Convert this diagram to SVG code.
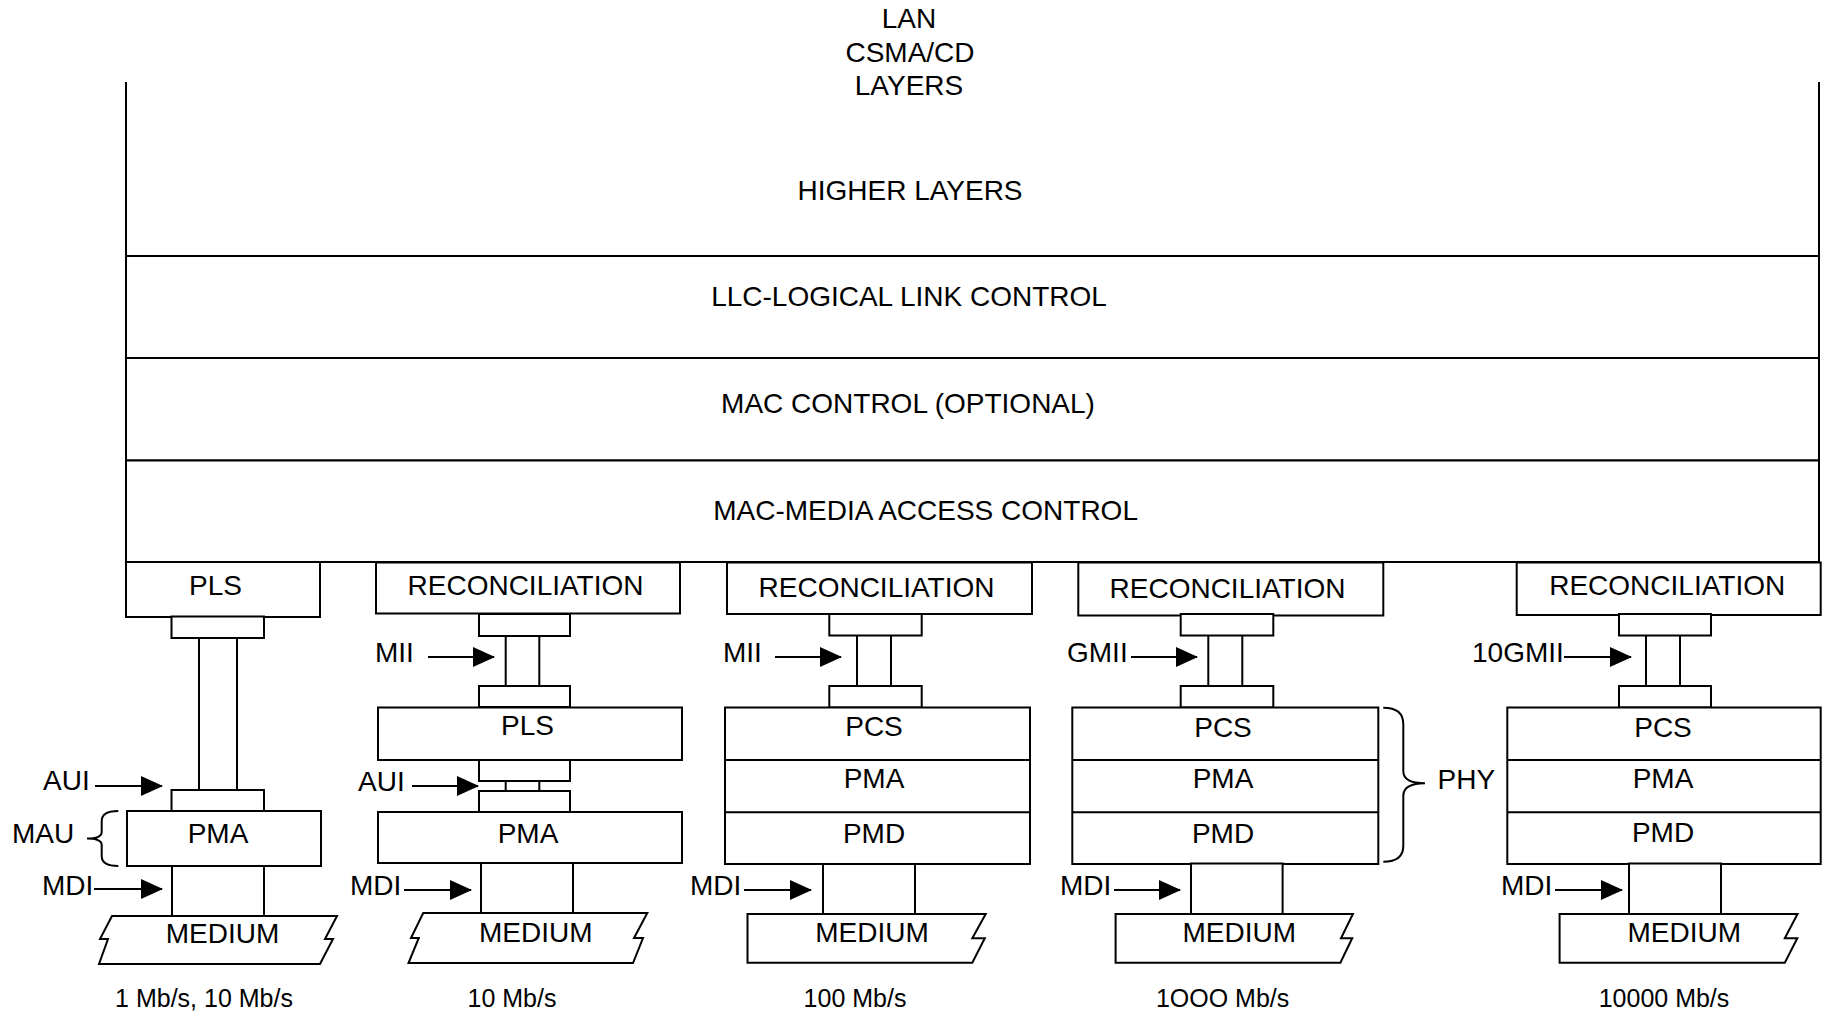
<svg xmlns="http://www.w3.org/2000/svg" width="1828" height="1016" viewBox="0 0 1828 1016">
<defs>
<style>
.t{font-family:"Liberation Sans",Arial,sans-serif;font-size:28px;fill:#000;text-anchor:middle}
.l{font-family:"Liberation Sans",Arial,sans-serif;font-size:28px;fill:#000}
.r{font-family:"Liberation Sans",Arial,sans-serif;font-size:25px;fill:#000;text-anchor:middle}
.b{fill:#fff;stroke:#000;stroke-width:2}
.s{fill:none;stroke:#000;stroke-width:2}
.a{fill:none;stroke:#000;stroke-width:2;marker-end:url(#ah)}
</style>
<marker id="ah" viewBox="0 0 22 20" refX="21" refY="10" markerWidth="22" markerHeight="20" markerUnits="userSpaceOnUse" orient="auto">
<path d="M0,0 L22,10 L0,20 z" fill="#000"/>
</marker>
</defs>
<rect width="1828" height="1016" fill="#fff"/>

<g id="title">
<text class="t" x="909" y="28">LAN</text>
<text class="t" x="910" y="61.5">CSMA/CD</text>
<text class="t" x="909" y="94.5">LAYERS</text>
</g>

<g id="higher-layers">
<path class="s" d="M126,82 V256 M1819,82 V256"/>
<text class="t" x="910" y="200">HIGHER LAYERS</text>
</g>
<g id="llc">
<rect class="b" x="126" y="256" width="1693" height="102"/>
<text class="t" x="909" y="306">LLC-LOGICAL LINK CONTROL</text>
</g>
<g id="mac-control">
<rect class="b" x="126" y="358" width="1693" height="102.5"/>
<text class="t" x="908" y="413">MAC CONTROL (OPTIONAL)</text>
</g>
<g id="mac">
<rect class="b" x="126" y="460.5" width="1693" height="101.5"/>
<text class="t" x="925.6" y="520">MAC-MEDIA ACCESS CONTROL</text>
</g>

<!-- column 1 -->
<g id="c1-pls">
<rect class="b" x="126" y="562" width="194" height="55"/>
<text class="t" x="215.5" y="595">PLS</text>
</g>
<g id="c1-aui">
<rect class="b" x="171.5" y="616.5" width="92.5" height="21.5"/>
<path class="s" d="M199,638 V790 M237,638 V790"/>
<rect class="b" x="171.5" y="790" width="92.5" height="21"/>
</g>
<g id="c1-pma">
<rect class="b" x="127" y="811" width="194" height="55"/>
<text class="t" x="218" y="843">PMA</text>
</g>
<g id="c1-mdi">
<path class="s" d="M172,866 V916 M264,866 V916"/>
</g>
<g id="c1-medium">
<path class="b" d="M112,916 L337,916 L325,939 L333,939 L320,964 L99,964 L108,939 L100,939 Z"/>
<text class="t" x="222.5" y="943">MEDIUM</text>
</g>
<g id="c1-labels">
<text class="l" x="43" y="790">AUI</text>
<text class="l" x="12" y="843">MAU</text>
<text class="l" x="42" y="895">MDI</text>
<path class="s" d="M118.3,811 Q101.7,811 101.7,821 V832 Q101.7,838.5 87,838.5 Q101.7,838.5 101.7,845 V856 Q101.7,866 118.3,866"/>
<text class="r" x="204" y="1007">1 Mb/s, 10 Mb/s</text>
</g>

<!-- column 2 -->
<g id="c2-rec">
<rect class="b" x="376" y="562.5" width="304" height="51"/>
<text class="t" x="525.5" y="595">RECONCILIATION</text>
</g>
<g id="c2-mii">
<rect class="b" x="479" y="614" width="91" height="22"/>
<path class="s" d="M505.7,636 V686 M539.3,636 V686"/>
<rect class="b" x="479" y="686" width="91" height="21"/>
</g>
<g id="c2-pls">
<rect class="b" x="378" y="707.5" width="304" height="52.5"/>
<text class="t" x="527.5" y="735">PLS</text>
</g>
<g id="c2-aui">
<rect class="b" x="479" y="760" width="91" height="21"/>
<path class="s" d="M505.7,781 V791 M539.3,781 V791"/>
<rect class="b" x="479" y="791" width="91" height="21"/>
</g>
<g id="c2-pma">
<rect class="b" x="378" y="812" width="304" height="51"/>
<text class="t" x="528" y="843">PMA</text>
</g>
<g id="c2-mdi">
<rect class="b" x="481" y="863" width="92" height="50"/>
</g>
<g id="c2-medium">
<path class="b" d="M423.2,913 L647.3,913 L634,938 L643,938 L633,963 L408.5,963 L418.8,938 L411,938 Z"/>
<text class="t" x="535.7" y="941.7">MEDIUM</text>
</g>
<g id="c2-labels">
<text class="l" x="375" y="662">MII</text>
<text class="l" x="358" y="791">AUI</text>
<text class="l" x="350" y="895">MDI</text>
<text class="r" x="512" y="1007">10 Mb/s</text>
</g>

<!-- column 3 -->
<g id="c3-rec">
<rect class="b" x="727" y="562.5" width="305" height="51.5"/>
<text class="t" x="876.5" y="596.7">RECONCILIATION</text>
</g>
<g id="c3-mii">
<rect class="b" x="829.3" y="614" width="92.4" height="21.5"/>
<path class="s" d="M857,635.5 V686 M891,635.5 V686"/>
<rect class="b" x="829.3" y="686" width="92.4" height="21.5"/>
</g>
<g id="c3-phy">
<rect class="b" x="725" y="707.5" width="305" height="156.5"/>
<path class="s" d="M725,760 H1030 M725,812.3 H1030"/>
<text class="t" x="874" y="736">PCS</text>
<text class="t" x="874" y="788.3">PMA</text>
<text class="t" x="874" y="842.7">PMD</text>
</g>
<g id="c3-mdi">
<rect class="b" x="823" y="864" width="92" height="50"/>
</g>
<g id="c3-medium">
<path class="b" d="M747.5,914 L985.7,914 L972.3,938.3 L984.8,938.3 L972.3,962.7 L747.5,962.7 Z"/>
<text class="t" x="872" y="941.7">MEDIUM</text>
</g>
<g id="c3-labels">
<text class="l" x="723" y="662">MII</text>
<text class="l" x="690" y="895">MDI</text>
<text class="r" x="855" y="1007">100 Mb/s</text>
</g>

<!-- column 4 -->
<g id="c4-rec">
<rect class="b" x="1078.3" y="562.5" width="305" height="53"/>
<text class="t" x="1227.5" y="598.3">RECONCILIATION</text>
</g>
<g id="c4-gmii">
<rect class="b" x="1180.7" y="614" width="92.6" height="21.5"/>
<path class="s" d="M1208.3,635.5 V686 M1242.3,635.5 V686"/>
<rect class="b" x="1180.7" y="686" width="92.6" height="21.5"/>
</g>
<g id="c4-phy">
<rect class="b" x="1072.3" y="707.5" width="306" height="156.5"/>
<path class="s" d="M1072.3,760 H1378.3 M1072.3,812.3 H1378.3"/>
<text class="t" x="1223" y="736.7">PCS</text>
<text class="t" x="1223" y="788.3">PMA</text>
<text class="t" x="1223" y="842.7">PMD</text>
</g>
<g id="c4-mdi">
<rect class="b" x="1191" y="863.5" width="91.6" height="50.5"/>
</g>
<g id="c4-medium">
<path class="b" d="M1115.6,914 L1352.9,914 L1341,938.3 L1352.2,938.3 L1340.4,962.7 L1115.6,962.7 Z"/>
<text class="t" x="1239.3" y="941.7">MEDIUM</text>
</g>
<g id="c4-labels">
<text class="l" x="1067" y="662">GMII</text>
<text class="l" x="1060" y="895">MDI</text>
<path class="s" d="M1383.3,707.7 Q1403.3,707.7 1403.3,724 V771 Q1403.3,783.3 1425,783.3 Q1403.3,783.3 1403.3,796 V846 Q1403.3,861.7 1383.3,861.7"/>
<text class="l" x="1437.5" y="789">PHY</text>
<text class="r" x="1222.6" y="1007">1OOO Mb/s</text>
</g>

<!-- column 5 -->
<g id="c5-rec">
<rect class="b" x="1516.7" y="562.5" width="304" height="52.5"/>
<text class="t" x="1667.2" y="595">RECONCILIATION</text>
</g>
<g id="c5-10gmii">
<rect class="b" x="1619" y="614" width="92" height="21.5"/>
<path class="s" d="M1646,635.5 V686 M1680,635.5 V686"/>
<rect class="b" x="1619" y="686" width="92" height="21.5"/>
</g>
<g id="c5-phy">
<rect class="b" x="1507.3" y="707.5" width="313.4" height="156.5"/>
<path class="s" d="M1507.3,760 H1820.7 M1507.3,812.3 H1820.7"/>
<text class="t" x="1663" y="737.3">PCS</text>
<text class="t" x="1663" y="788">PMA</text>
<text class="t" x="1663" y="841.7">PMD</text>
</g>
<g id="c5-mdi">
<rect class="b" x="1629" y="863.5" width="92" height="50.5"/>
</g>
<g id="c5-medium">
<path class="b" d="M1559.6,914 L1797.5,914 L1784.8,938.3 L1797.3,938.3 L1784.8,962.7 L1559.6,962.7 Z"/>
<text class="t" x="1684.3" y="941.7">MEDIUM</text>
</g>
<g id="c5-labels">
<text class="l" x="1472" y="662">10GMII</text>
<text class="l" x="1501" y="895">MDI</text>
<text class="r" x="1664" y="1007">10000 Mb/s</text>
</g>

<g id="connectors">
<line class="a" x1="95" y1="786" x2="162" y2="786"/>
<line class="a" x1="94" y1="889" x2="162" y2="889"/>
<line class="a" x1="428" y1="657" x2="494" y2="657"/>
<line class="a" x1="412" y1="786" x2="478" y2="786"/>
<line class="a" x1="404" y1="890" x2="471" y2="890"/>
<line class="a" x1="775" y1="657" x2="841" y2="657"/>
<line class="a" x1="744" y1="890" x2="811" y2="890"/>
<line class="a" x1="1131" y1="657" x2="1197" y2="657"/>
<line class="a" x1="1114" y1="890" x2="1180" y2="890"/>
<line class="a" x1="1564" y1="657" x2="1631" y2="657"/>
<line class="a" x1="1555" y1="890" x2="1622" y2="890"/>
</g>
</svg>
